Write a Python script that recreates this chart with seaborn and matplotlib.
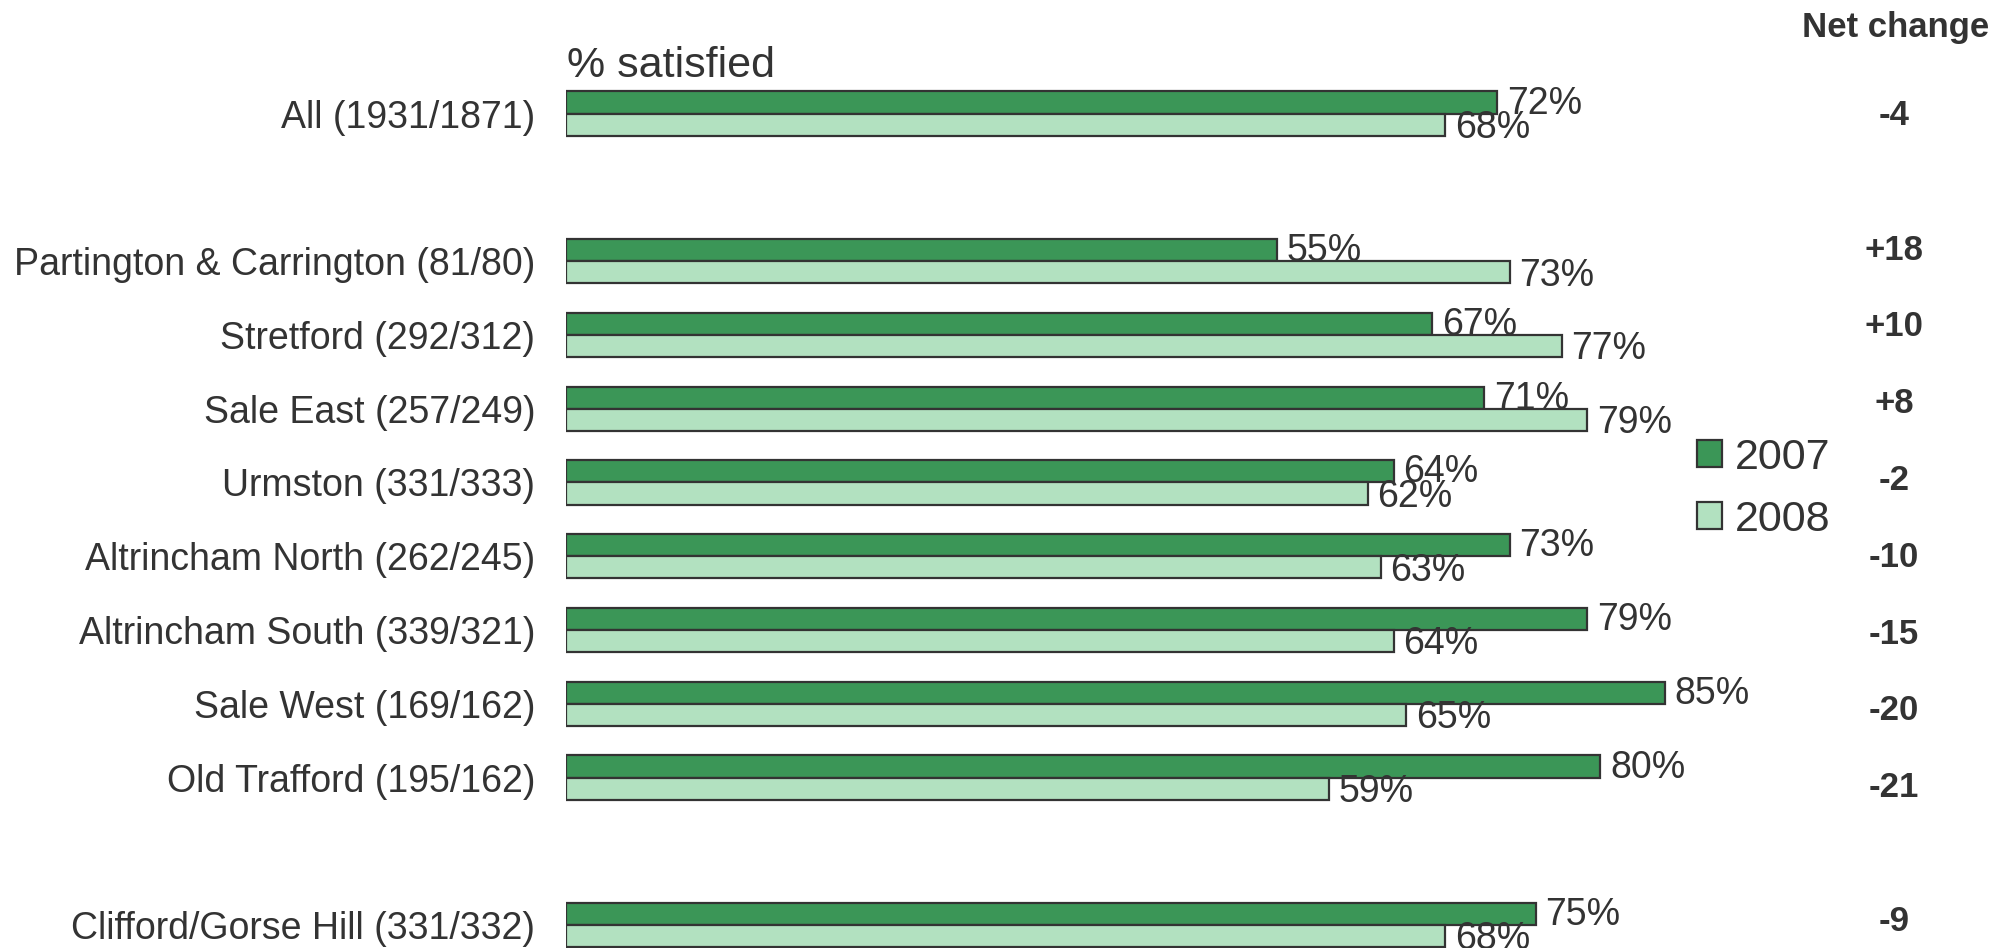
import pandas as pd
import matplotlib.pyplot as plt
import matplotlib.patches as mpatches
import seaborn as sns

# -----------------------------
# Data
# -----------------------------
areas = [
    "All (1931/1871)",
    "Partington & Carrington (81/80)",
    "Stretford (292/312)",
    "Sale East (257/249)",
    "Urmston (331/333)",
    "Altrincham North (262/245)",
    "Altrincham South (339/321)",
    "Sale West (169/162)",
    "Old Trafford (195/162)",
    "Clifford/Gorse Hill (331/332)",
]
row_pos = [0, 2, 3, 4, 5, 6, 7, 8, 9, 11]
sat_2007 = [72, 55, 67, 71, 64, 73, 79, 85, 80, 75]
sat_2008 = [68, 73, 77, 79, 62, 63, 64, 65, 59, 68]
net_change = ["-4", "+18", "+10", "+8", "-2", "-10", "-15", "-20", "-21", "-9"]
years = ["2007", "2008"]

dark_green = "#3b9657"
light_green = "#b2e1c0"
edge = "#333333"
txt = "#333333"

df = pd.DataFrame({
    "pos": row_pos * 2,
    "pct": sat_2007 + sat_2008,
    "year": [years[0]] * len(areas) + [years[1]] * len(areas),
})

sns.set_style("white")
plt.rcParams["font.family"] = ["Liberation Sans", "DejaVu Sans"]

fig = plt.figure(figsize=(20.13, 9.48), dpi=100)
ax = fig.add_axes([566 / 2013, 0, 1 - 566 / 2013, 1])

sns.barplot(
    data=df, x="pct", y="pos", hue="year", orient="h",
    native_scale=True, width=0.6, palette=[dark_green, light_green],
    saturation=1, edgecolor=edge, linewidth=1.6, legend=False, ax=ax
)

ax.set_xlim(0, 1447 / 12.93)
ax.set_ylim(11.31, -1.54)
for s in ax.spines.values():
    s.set_visible(False)
ax.set_xticks([])
ax.set_xlabel("")
ax.set_ylabel("")
ax.set_yticks(row_pos)
ax.set_yticklabels(areas, fontsize=27, color=txt)
ax.tick_params(axis="y", length=0, pad=22)

# value labels
for y, a, b in zip(row_pos, sat_2007, sat_2008):
    ax.text(a + 0.75, y + 0.0, f"{a}%", fontsize=27, color=txt,
            ha="left", va="baseline")
    ax.text(b + 0.75, y + 0.33, f"{b}%", fontsize=27, color=txt,
            ha="left", va="baseline", clip_on=False)

# titles
ax.text(0.1, -0.49, "% satisfied", fontsize=31, color=txt,
        ha="left", va="baseline")
ax.text(102.8, -1.04, "Net change", fontsize=25, color=txt,
        fontweight="bold", ha="center", va="baseline")

# net change column (original spacing drifts slightly from the rows)
net_y = [0.03] + [1.85 + i * 1.041 for i in range(8)] + [10.95]
for y, n in zip(net_y, net_change):
    ax.text(102.7, y, n, fontsize=25, color=txt, fontweight="bold",
            ha="center", va="center")

# legend
handles = [
    mpatches.Patch(facecolor=dark_green, edgecolor=edge, linewidth=1.6, label=years[0]),
    mpatches.Patch(facecolor=light_green, edgecolor=edge, linewidth=1.6, label=years[1]),
]
leg = fig.legend(
    handles=handles, loc="upper left",
    bbox_to_anchor=(1697 / 2013, 1 - 438 / 948),
    frameon=False, fontsize=31, handlelength=0.58, handleheight=0.58,
    handletextpad=0.3, labelspacing=0.5, borderpad=0, borderaxespad=0
)
for t in leg.get_texts():
    t.set_color(txt)

fig.savefig("out.png", dpi=100)
